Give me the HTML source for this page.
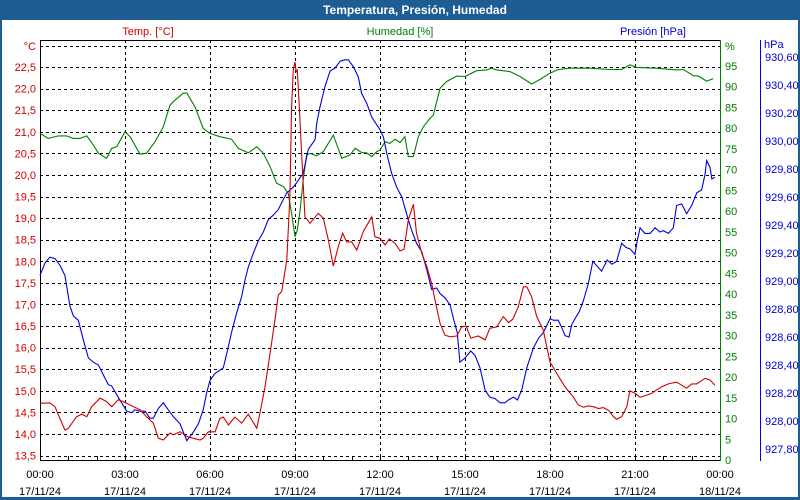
<!DOCTYPE html>
<html><head><meta charset="utf-8"><style>
html,body{margin:0;padding:0;background:#fff;}
#wrap{position:relative;width:800px;height:500px;overflow:hidden;font-family:"Liberation Sans",sans-serif;}
svg text{font-family:"Liberation Sans",sans-serif;font-size:11px;}
</style></head><body>
<div id="wrap">
<svg id="chart" width="800" height="500" viewBox="0 0 800 500">
<rect x="0" y="0" width="800" height="500" fill="#1e5d94"/>
<rect x="2" y="20" width="796" height="477" fill="#ffffff"/>
<text x="415" y="14" fill="#fff" font-weight="bold" text-anchor="middle" style="font-size:12px">Temperatura, Presión, Humedad</text>
<text x="148" y="35" fill="#d00000" text-anchor="middle">Temp. [°C]</text>
<text x="400" y="35" fill="#008000" text-anchor="middle">Humedad [%]</text>
<text x="686" y="35" fill="#0000d0" text-anchor="end">Presión [hPa]</text>
<g id="grid"></g>
<g id="axes"></g>
<g id="series"></g>
</svg>
</div>
<script>
// X axis: hours since 17/11/24 00:00
const xTickHours = [0,3,6,9,12,15,18,21,24];
const xTickTimes = ["00:00","03:00","06:00","09:00","12:00","15:00","18:00","21:00","00:00"];
const xTickDates = ["17/11/24","17/11/24","17/11/24","17/11/24","17/11/24","17/11/24","17/11/24","17/11/24","18/11/24"];
const tempTicks = [13.5,14.0,14.5,15.0,15.5,16.0,16.5,17.0,17.5,18.0,18.5,19.0,19.5,20.0,20.5,21.0,21.5,22.0,22.5];
const humTicks = [0,5,10,15,20,25,30,35,40,45,50,55,60,65,70,75,80,85,90,95];
const presTicks = [927.8,928.0,928.2,928.4,928.6,928.8,929.0,929.2,929.4,929.6,929.8,930.0,930.2,930.4,930.6];

const tempHours = [0,0.35,0.53,0.65,0.88,1.0,1.29,1.47,1.65,1.82,2.12,2.35,2.53,2.76,2.94,3.18,3.53,3.76,4.0,4.18,4.35,4.59,4.71,4.94,5.18,5.41,5.65,5.76,5.94,
6.0,6.18,6.35,6.47,6.65,6.88,7.12,7.35,7.65,7.76,7.94,8.12,8.29,8.41,8.53,8.71,8.82,8.88,8.94,9.0,9.04,9.08,9.15,9.24,9.35,9.53,9.82,10.0,10.18,10.35,10.53,10.68,10.82,11.0,11.18,11.41,11.71,11.82,
12.0,12.18,12.33,12.53,12.71,12.85,13.0,13.18,13.29,13.47,13.65,13.82,13.94,14.12,14.29,14.47,14.71,14.88,15.04,15.2,15.47,15.71,15.88,16.12,16.35,16.53,16.69,16.88,17.06,17.18,17.35,17.53,17.76,
18.0,18.24,18.53,18.82,19.0,19.18,19.35,19.53,19.71,19.88,20.06,20.24,20.35,20.53,20.71,20.82,21.0,21.18,21.41,21.59,21.76,21.94,22.18,22.47,22.65,22.82,23.0,23.18,23.47,23.65,23.82];
const tempValues = [14.71,14.72,14.63,14.44,14.09,14.13,14.40,14.46,14.40,14.63,14.83,14.75,14.63,14.79,14.75,14.67,14.56,14.40,14.25,13.90,13.86,14.02,13.98,14.05,13.94,13.90,13.86,13.90,14.05,
14.05,14.05,14.36,14.39,14.21,14.39,14.25,14.46,14.13,14.48,15.09,15.87,16.64,17.22,17.30,18.03,19.50,21.58,22.43,22.62,22.39,22.43,21.58,20.42,19.03,18.88,19.11,19.00,18.49,17.89,18.34,18.65,18.45,18.45,18.26,18.69,19.03,18.57,
18.53,18.38,18.52,18.42,18.24,18.28,18.96,19.32,18.65,18.19,17.88,17.49,17.10,16.56,16.29,16.25,16.27,16.48,16.50,16.22,16.27,16.18,16.45,16.48,16.72,16.58,16.66,16.95,17.41,17.41,17.18,16.72,16.41,
15.67,15.40,15.09,14.86,14.67,14.62,14.65,14.63,14.59,14.61,14.55,14.40,14.34,14.40,14.63,15.00,14.94,14.85,14.90,14.94,15.02,15.09,15.16,15.20,15.13,15.06,15.16,15.16,15.29,15.25,15.13];

const humHours = [0,0.29,0.65,0.94,1.18,1.41,1.65,1.88,2.06,2.35,2.53,2.71,3.0,3.18,3.53,3.76,4.06,4.35,4.59,4.76,5.06,5.18,5.47,5.76,
6.0,6.35,6.76,7.0,7.35,7.65,7.88,8.12,8.35,8.59,8.76,8.88,9.0,9.08,9.18,9.29,9.41,9.53,9.76,10.0,10.35,10.65,10.94,11.12,11.35,11.53,11.71,11.88,
12.0,12.18,12.35,12.53,12.71,12.88,13.0,13.18,13.35,13.53,13.76,13.88,14.12,14.35,14.71,15.0,15.41,15.76,15.94,16.12,16.59,16.94,17.35,17.65,
18.0,18.29,18.71,19.41,20.12,20.53,20.82,21.06,21.76,22.47,22.71,23.06,23.24,23.53,23.76];
const humValues = [78.7,77.5,78.1,78.1,77.5,77.5,78.1,75.9,73.9,72.7,75.1,75.5,79.1,77.9,73.7,73.9,76.7,80.3,85.5,86.7,88.4,88.4,85.1,79.9,
78.7,77.9,77.3,75.1,74.0,75.5,73.9,70.7,66.7,65.9,64.3,59.4,53.8,55.4,60.2,67.5,73.5,73.9,73.3,74.3,78.3,72.7,73.5,75.1,74.1,74.0,73.1,74.3,
74.7,76.7,76.3,77.3,76.5,77.9,73.1,73.1,77.9,80.3,82.3,83.1,89.6,91.2,92.5,92.4,93.8,94.0,94.4,94.0,93.6,92.4,90.6,91.7,
93.2,94.1,94.4,94.4,94.1,94.1,95.2,94.6,94.4,94.0,94.1,92.6,92.5,91.3,91.9];

const presHours = [0,0.18,0.35,0.53,0.71,0.88,1.06,1.18,1.35,1.53,1.71,1.88,2.06,2.23,2.41,2.53,2.76,3.06,3.24,3.35,3.53,3.71,3.88,4.0,4.18,4.35,4.53,4.71,4.94,5.18,5.41,5.59,5.76,5.88,
6.0,6.18,6.47,6.59,6.77,6.94,7.12,7.24,7.35,7.53,7.71,7.88,8.06,8.23,8.41,8.53,8.71,8.94,9.12,9.29,9.47,9.71,9.77,9.88,10.06,10.24,10.41,10.59,10.76,10.88,11.06,11.23,11.35,11.53,11.71,12.0,
12.12,12.24,12.41,12.59,12.77,12.94,13.12,13.29,13.47,13.65,13.82,14.0,14.12,14.29,14.47,14.61,14.73,14.82,15.0,15.2,15.35,15.53,15.71,15.88,16.06,16.24,16.41,16.53,16.71,16.85,17.0,17.18,17.41,17.59,17.76,
18.0,18.12,18.29,18.41,18.53,18.67,18.77,18.88,19.03,19.18,19.35,19.51,19.65,19.82,20.02,20.18,20.35,20.53,20.68,20.82,21.0,21.08,21.18,21.35,21.53,21.71,21.88,22.0,22.18,22.35,22.47,22.65,22.82,23.0,23.18,23.35,23.47,23.53,23.65,23.71,23.82];
const presValues = [929.04,929.13,929.17,929.16,929.11,929.04,928.82,928.75,928.72,928.58,928.45,928.42,928.40,928.33,928.26,928.25,928.17,928.07,928.06,928.08,928.07,928.07,928.02,928.02,928.09,928.13,928.08,928.03,927.98,927.86,927.92,927.98,928.08,928.20,
928.29,928.34,928.38,928.48,928.64,928.77,928.89,929.01,929.10,929.20,929.29,929.35,929.44,929.47,929.51,929.56,929.63,929.67,929.72,929.77,929.94,930.01,930.13,930.24,930.39,930.50,930.52,930.57,930.58,930.58,930.53,930.46,930.34,930.27,930.17,930.08,
930.03,929.91,929.77,929.67,929.60,929.48,929.36,929.27,929.21,929.08,928.94,928.95,928.91,928.88,928.83,928.72,928.63,928.42,928.45,928.50,928.47,928.38,928.22,928.17,928.16,928.13,928.13,928.15,928.17,928.15,928.22,928.38,928.52,928.59,928.63,
928.73,928.72,928.72,928.67,928.61,928.60,928.69,928.73,928.78,928.86,928.98,929.14,929.11,929.07,929.15,929.12,929.14,929.27,929.24,929.23,929.19,929.29,929.38,929.34,929.34,929.38,929.35,929.36,929.34,929.38,929.54,929.55,929.48,929.54,929.63,929.65,929.76,929.86,929.81,929.73,929.74];

const NS = "http://www.w3.org/2000/svg";
const X0 = 40, X1 = 720;
function xScale(h){ return X0 + (X1 - X0) * h / 24; }
function yTemp(t){ return 45.5 + (23 - t) * 43.16; }
function yHum(v){ return 460 - v * 4.15; }
function yPres(p){ return 449 - (p - 927.8) * 140; }
function mk(tag, attrs, parent){
  const e = document.createElementNS(NS, tag);
  for (const k in attrs) e.setAttribute(k, attrs[k]);
  parent.appendChild(e);
  return e;
}
const grid = document.getElementById('grid');
const axes = document.getElementById('axes');
const series = document.getElementById('series');

// horizontal grid (temperature ticks + top °C line)
[...tempTicks, 23].forEach(t => {
  const y = Math.round(yTemp(t)) + 0.5;
  const l = mk('line', {x1:X0, x2:X1, y1:y, y2:y, stroke:'#000', 'stroke-width':1, 'stroke-dasharray':'3,3'}, grid);
  
  
});
xTickHours.forEach((h, i) => {
  const x = Math.round(xScale(h)) + 0.5;
  if (i > 0 && i < xTickHours.length - 1) {
    const l = mk('line', {x1:x, x2:x, y1:40, y2:460, stroke:'#000', 'stroke-width':1, 'stroke-dasharray':'3,3'}, grid);
    
    
  }
  const t1 = mk('text', {x:xScale(h), y:478, 'text-anchor':'middle', fill:'#000'}, axes);
  t1.textContent = xTickTimes[i];
  
  
  const t2 = mk('text', {x:xScale(h), y:495, 'text-anchor':'middle', fill:'#000'}, axes);
  t2.textContent = xTickDates[i];
  
  
});
for (let h = 1; h < 24; h++) {
  const x = Math.round(xScale(h)) + 0.5;
  const m = mk('line', {x1:x, x2:x, y1:456, y2:460, stroke:'#000'}, axes);
  
  
}
// axis lines
const ax1 = mk('line', {x1:40.5, x2:40.5, y1:40, y2:461, stroke:'#000'}, axes);


const axTop = mk('line', {x1:40, x2:721, y1:40.5, y2:40.5, stroke:'#000'}, axes);


const axB = mk('line', {x1:40, x2:721, y1:460.5, y2:460.5, stroke:'#000'}, axes);


const ax2 = mk('line', {x1:720.5, x2:720.5, y1:40, y2:461, stroke:'#008000'}, axes);


const ax3 = mk('line', {x1:760.5, x2:760.5, y1:40, y2:461, stroke:'#0000d0'}, axes);



// tick labels
tempTicks.forEach(t => {
  const e = mk('text', {x:36, y:yTemp(t)+4, 'text-anchor':'end', fill:'#d00000'}, axes);
  e.textContent = t.toFixed(1).replace('.', ',');
  
  
});
const cu = mk('text', {x:36, y:50, 'text-anchor':'end', fill:'#d00000'}, axes);
cu.textContent = '°C';


humTicks.forEach(v => {
  const e = mk('text', {x:725, y:yHum(v)+4, fill:'#008000'}, axes);
  e.textContent = String(v);
  
  
});
const hu = mk('text', {x:725, y:50, fill:'#008000'}, axes);
hu.textContent = '%';


presTicks.forEach(p => {
  const e = mk('text', {x:765, y:yPres(p)+4, fill:'#0000d0'}, axes);
  e.textContent = p.toFixed(2).replace('.', ',');
  
  
});
const pu = mk('text', {x:764, y:48, fill:'#0000d0'}, axes);
pu.textContent = 'hPa';



// series
function pts(hours, vals, yf){ return hours.map((h, i) => xScale(h).toFixed(1) + ',' + yf(vals[i]).toFixed(1)).join(' '); }
const hl = mk('polyline', {points:pts(humHours, humValues, yHum), fill:'none', stroke:'#008000', 'stroke-width':1.1}, series);


const pl = mk('polyline', {points:pts(presHours, presValues, yPres), fill:'none', stroke:'#0000e0', 'stroke-width':1.1}, series);


const tl = mk('polyline', {points:pts(tempHours, tempValues, yTemp), fill:'none', stroke:'#d00000', 'stroke-width':1.1}, series);


</script>
</body></html>
